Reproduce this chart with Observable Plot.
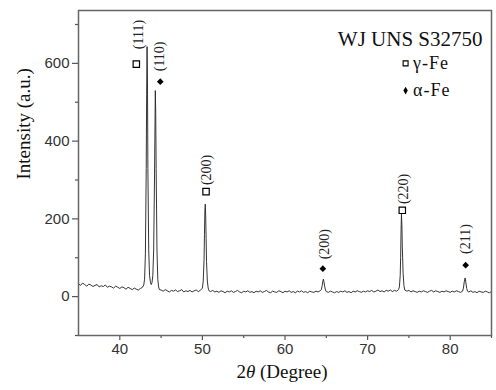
<!DOCTYPE html>
<html><head><meta charset="utf-8">
<script src="https://cdn.jsdelivr.net/npm/d3@7"></script>
<script src="https://cdn.jsdelivr.net/npm/@observablehq/plot@0.6"></script>
<style>body{margin:0;background:#fff} svg{display:block}</style>
</head><body><div id="chart"></div>
<script>
// XRD scan: [2θ (deg), intensity (a.u.)]
const scan = [
[35.00,33],[35.25,29],[35.50,35],[35.75,31],[36.00,27],[36.25,32],[36.50,30],[36.75,26],[37.00,29],[37.25,31],
[37.50,25],[37.75,28],[38.00,26],[38.25,30],[38.50,24],[38.75,27],[39.00,25],[39.25,22],[39.50,27],[39.75,24],
[40.00,21],[40.25,25],[40.50,23],[40.75,19],[41.00,24],[41.25,21],[41.50,18],[41.75,22],[42.00,19],[42.25,17],
[42.50,21],[42.75,24],
[42.90,30],[43.00,45],[43.10,110],[43.20,330],[43.25,520],[43.30,643],[43.35,560],[43.40,330],[43.50,120],[43.60,55],
[43.70,38],[43.80,31],[43.90,36],[44.00,55],[44.10,120],[44.20,300],[44.30,530],[44.35,470],[44.40,330],[44.50,120],
[44.60,45],[44.70,25],[44.80,18],
[45.00,17],[45.25,14],[45.50,18],[45.75,15],[46.00,12],[46.25,16],[46.50,14],[46.75,17],[47.00,13],[47.25,15],
[47.50,18],[47.75,12],[48.00,15],[48.25,13],[48.50,16],[48.75,12],[49.00,15],[49.25,17],[49.50,13],[49.75,16],
[50.00,22],
[50.10,40],[50.20,95],[50.25,160],[50.30,220],[50.35,238],[50.40,205],[50.45,150],[50.50,90],[50.60,40],[50.70,22],
[50.80,15],
[51.00,13],[51.25,16],[51.50,12],[51.75,14],[52.00,11],[52.25,15],[52.50,13],[52.75,10],[53.00,14],[53.25,12],
[53.50,15],[53.75,11],[54.00,13],[54.25,16],[54.50,12],[54.75,10],[55.00,14],[55.25,12],[55.50,15],[55.75,11],
[56.00,13],[56.25,10],[56.50,14],[56.75,12],[57.00,15],[57.25,11],[57.50,13],[57.75,16],[58.00,12],[58.25,10],
[58.50,14],[58.75,12],[59.00,11],[59.25,15],[59.50,13],[59.75,10],[60.00,14],[60.25,12],[60.50,15],[60.75,11],
[61.00,13],[61.25,10],[61.50,14],[61.75,12],[62.00,15],[62.25,11],[62.50,13],[62.75,10],[63.00,14],[63.25,12],
[63.50,11],[63.75,14],[64.00,12],[64.25,15],
[64.40,18],[64.50,28],[64.60,42],[64.65,45],[64.70,40],[64.80,27],[64.90,17],[65.00,13],
[65.25,11],[65.50,14],[65.75,12],[66.00,10],[66.25,13],[66.50,11],[66.75,14],[67.00,12],[67.25,15],[67.50,11],
[67.75,13],[68.00,10],[68.25,14],[68.50,12],[68.75,15],[69.00,13],[69.25,11],[69.50,14],[69.75,12],[70.00,15],
[70.25,13],[70.50,16],[70.75,12],[71.00,14],[71.25,17],[71.50,13],[71.75,15],[72.00,12],[72.25,16],[72.50,14],
[72.75,17],[73.00,13],[73.25,16],[73.50,14],[73.75,18],
[73.85,25],[73.95,55],[74.00,100],[74.05,170],[74.10,212],[74.15,185],[74.20,130],[74.30,60],[74.40,28],[74.50,17],
[74.75,14],[75.00,16],[75.25,12],[75.50,15],[75.75,13],[76.00,11],[76.25,14],[76.50,12],[76.75,15],[77.00,13],
[77.25,11],[77.50,14],[77.75,16],[78.00,12],[78.25,15],[78.50,13],[78.75,11],[79.00,14],[79.25,12],[79.50,15],
[79.75,13],[80.00,11],[80.25,14],[80.50,12],[80.75,15],[81.00,13],[81.25,11],[81.50,14],
[81.60,22],[81.70,38],[81.80,48],[81.85,45],[81.90,35],[82.00,21],[82.10,14],
[82.25,12],[82.50,15],[82.75,11],[83.00,13],[83.25,10],[83.50,14],[83.75,12],[84.00,11],[84.25,14],[84.50,12],
[84.75,10],[85.00,13]
];

// Peak annotations
const peakLabels = ["(111)", "(110)", "(200)", "(200)", "(220)", "(211)"];
const peakPhase  = ["γ", "α", "γ", "α", "γ", "α"];
const markerX    = [42.0, 44.9, 50.44, 64.58, 74.2, 81.87];
const markerY    = [598, 553, 270, 72, 222, 81];
const labelX     = [42.25, 44.83, 50.44, 64.8, 74.3, 81.9];
const labelY     = [674, 618, 326, 135, 277, 148];

// Legend
const legendNames = ["γ-Fe", "α-Fe"];
const legendY     = [600, 530];

// Ticks
const xTicks = [40, 50, 60, 70, 80];
const xMinor = [45, 55, 65, 75, 85];
const yTicks = [0, 200, 400, 600];
const yMinor = [-100, 100, 300, 500, 700];

const data = scan.map(([t, i]) => ({t, i}));
const peaks = peakLabels.map((label, k) => ({
  label, phase: peakPhase[k], x: markerX[k], y: markerY[k], lx: labelX[k], ly: labelY[k]
}));
const legend = legendNames.map((name, k) => ({name, phase: name[0], y: legendY[k]}));

const serif = "'Liberation Serif', 'Times New Roman', serif";

const plot = Plot.plot({
  width: 496, height: 390,
  marginLeft: 78, marginRight: 5, marginTop: 10, marginBottom: 55,
  x: {domain: [35, 85]},
  y: {domain: [-100, 736]},
  style: {fontFamily: "'Liberation Sans', Arial, sans-serif", fontSize: "15px", background: "#fff"},
  marks: [
    Plot.axisX({ticks: xTicks, tickSize: 5, tickPadding: 3, stroke: "#555", strokeWidth: 1.2, fill: "#333", fontSize: 15, label: null}),
    Plot.axisX({ticks: xMinor, tickSize: 3, stroke: "#555", strokeWidth: 1.2, tickFormat: () => "", label: null}),
    Plot.axisY({ticks: yTicks, tickSize: 6, tickPadding: 3, stroke: "#555", strokeWidth: 1.2, fill: "#333", fontSize: 15, label: null}),
    Plot.axisY({ticks: yMinor, tickSize: 3, stroke: "#555", strokeWidth: 1.2, tickFormat: () => "", label: null}),
    Plot.line(data, {x: "t", y: "i", stroke: "#2a2a2a", strokeWidth: 0.95}),
    Plot.frame({stroke: "#666", strokeWidth: 1.5}),
    Plot.dot(peaks.filter(d => d.phase === "γ"), {x: "x", y: "y", symbol: "square", r: 3.6, stroke: "#000", strokeWidth: 1.2, fill: "#fff"}),
    Plot.dot(peaks.filter(d => d.phase === "α"), {x: "x", y: "y", symbol: "diamond2", r: 3, fill: "#000"}),
    Plot.text(peaks, {x: "lx", y: "ly", text: "label", rotate: -90, fontFamily: serif, fontSize: 14, fill: "#222"}),
    // legend
    Plot.dot(legend.filter(d => d.phase === "γ"), {x: () => 74.6, y: "y", symbol: "square", r: 2.8, stroke: "#000", strokeWidth: 1.1, fill: "#fff"}),
    Plot.dot(legend.filter(d => d.phase === "α"), {x: () => 74.6, y: "y", symbol: "diamond", r: 2.3, fill: "#000"}),
    Plot.text(legend, {x: () => 75.5, y: "y", text: "name", textAnchor: "start", fontFamily: serif, fontSize: 18, fill: "#111"}),
    // title
    Plot.text(["WJ UNS S32750"], {frameAnchor: "top-right", textAnchor: "end", dx: -9, dy: 20.5, fontFamily: serif, fontSize: 21, fill: "#111"}),
    // axis titles
    Plot.text(["Intensity (a.u.)"], {frameAnchor: "left", rotate: -90, dx: -55, dy: 6.5, fontFamily: serif, fontSize: 19, fill: "#111"}),
    Plot.text(["2θ (Degree)"], {frameAnchor: "bottom", dx: -3, dy: 42, fontFamily: serif, fontSize: 19, fill: "#111"})
  ]
});

d3.select(plot).selectAll("text").each(function() {
  const s = this.textContent;
  if (s === "2θ (Degree)") {
    const t = d3.select(this);
    t.text(null);
    t.append("tspan").text("2");
    t.append("tspan").attr("font-style", "italic").text("θ");
    t.append("tspan").text(" (Degree)");
  } else if (s === "γ-Fe" || s === "α-Fe") {
    d3.select(this).attr("letter-spacing", "1px");
  }
});

document.getElementById("chart").appendChild(plot);
</script>
</body></html>
